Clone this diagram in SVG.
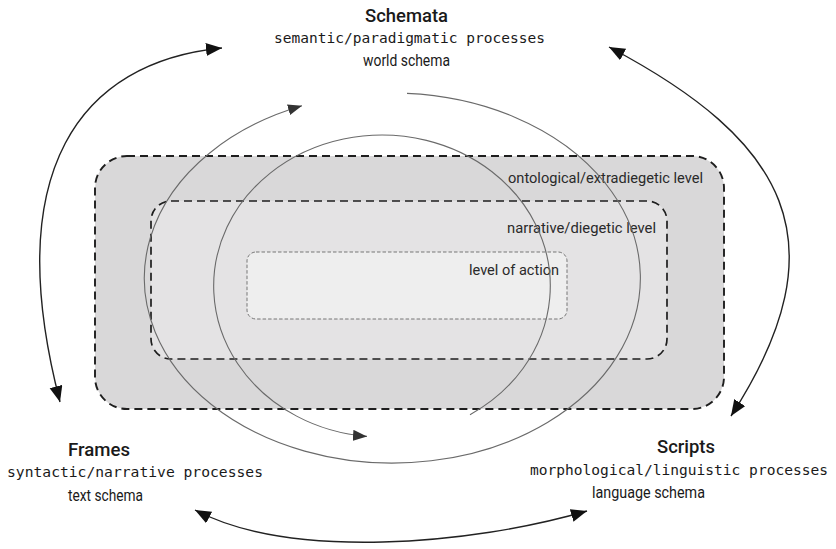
<svg xmlns="http://www.w3.org/2000/svg" width="836" height="549" viewBox="0 0 836 549">
<style>
.title{font-family:Roboto,"Liberation Sans",sans-serif;font-weight:500;font-size:19px;fill:#1a1a1a}
.mono{font-family:"DejaVu Sans Mono","Liberation Mono",monospace;font-size:14.5px;fill:#1a1a1a}
.sub{font-family:Roboto,"Liberation Sans",sans-serif;font-size:17px;fill:#1a1a1a}
.lvl{font-family:Roboto,"Liberation Sans",sans-serif;font-size:14px;fill:#2a2a2a}
.circ{fill:none;stroke:#6a6a6a;stroke-width:1.1}
.big{fill:none;stroke:#222;stroke-width:1.4}
</style>
<defs>
<marker id="ah" markerUnits="userSpaceOnUse" markerWidth="18" markerHeight="14" refX="16" refY="6.5" orient="auto-start-reverse" viewBox="0 0 18 14">
<path d="M0,0 L16,6.5 L0,13 z" fill="#111"/>
</marker>
<marker id="ch" markerUnits="userSpaceOnUse" markerWidth="15" markerHeight="12" refX="14" refY="5.5" orient="auto" viewBox="0 0 15 12">
<path d="M0,0 L14,5.5 L0,11 z" fill="#333"/>
</marker>
</defs>
<g id="levels">
<g id="outer-level">
<rect x="95" y="156" width="629" height="253" rx="32" ry="32" fill="#d9d8d9" stroke="#1e1e1e" stroke-width="1.9" stroke-dasharray="8,5"/>
<text class="lvl" x="508" y="183" textLength="195" lengthAdjust="spacingAndGlyphs">ontological/extradiegetic level</text>
</g>
<g id="narrative-level">
<rect x="151" y="201" width="516" height="158" rx="20" ry="20" fill="#e4e3e4" stroke="#1e1e1e" stroke-width="1.7" stroke-dasharray="8,5"/>
<text class="lvl" x="507" y="233" textLength="149" lengthAdjust="spacingAndGlyphs">narrative/diegetic level</text>
</g>
<g id="action-level">
<rect x="247" y="252" width="320" height="67" rx="9" ry="9" fill="#eeeeee" stroke="#777" stroke-width="1" stroke-dasharray="3.5,2"/>
<text class="lvl" x="469" y="275" textLength="90" lengthAdjust="spacingAndGlyphs">level of action</text>
</g>
</g>
<g id="connectors">
<path class="circ" d="M407,93.4 A248,185 0 1,1 302,105.8" marker-end="url(#ch)"/>
<path class="circ" d="M470,414.7 A168.3,151 0 1,0 367,436.4" marker-end="url(#ch)"/>
<path class="big" d="M60,402 C0,170 80,62 222,48" marker-start="url(#ah)" marker-end="url(#ah)"/>
<path class="big" d="M609,47 C785,140 845,240 731,416" marker-start="url(#ah)" marker-end="url(#ah)"/>
<path class="big" d="M195,510 C290,560 470,545 587,511" marker-start="url(#ah)" marker-end="url(#ah)"/>
</g>
<g id="schemata">
<text class="title" x="365" y="22" textLength="83" lengthAdjust="spacingAndGlyphs">Schemata</text>
<text class="mono" x="274" y="43" textLength="271" lengthAdjust="spacingAndGlyphs">semantic/paradigmatic processes</text>
<text class="sub" x="363" y="66" textLength="87" lengthAdjust="spacingAndGlyphs">world schema</text>
</g>
<g id="frames">
<text class="title" x="68" y="456" textLength="62" lengthAdjust="spacingAndGlyphs">Frames</text>
<text class="mono" x="7" y="477" textLength="256" lengthAdjust="spacingAndGlyphs">syntactic/narrative processes</text>
<text class="sub" x="68" y="501" textLength="75" lengthAdjust="spacingAndGlyphs">text schema</text>
</g>
<g id="scripts">
<text class="title" x="657" y="453" textLength="58" lengthAdjust="spacingAndGlyphs">Scripts</text>
<text class="mono" x="530" y="475" textLength="298" lengthAdjust="spacingAndGlyphs">morphological/linguistic processes</text>
<text class="sub" x="592" y="498" textLength="113" lengthAdjust="spacingAndGlyphs">language schema</text>
</g>
</svg>
